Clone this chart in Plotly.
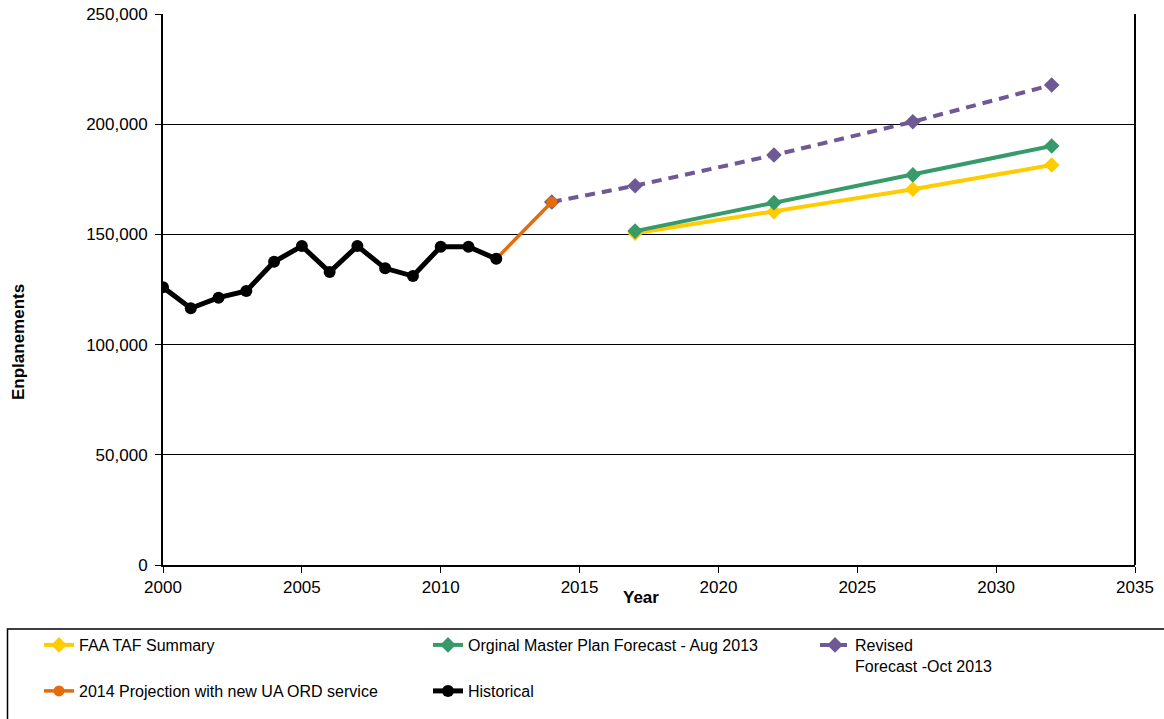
import plotly.graph_objects as go

hist_years = list(range(2000, 2013))
hist_vals = [126000, 116500, 121300, 124300, 137600, 144700, 132900, 144700, 134600, 131100, 144400, 144400, 138900]

proj_years = [2012, 2014]
proj_vals = [138900, 164700]

revised_years = [2014, 2017, 2022, 2027, 2032]
revised_vals = [164700, 172100, 186000, 201100, 217800]

orig_years = [2017, 2022, 2027, 2032]
orig_vals = [151500, 164400, 177000, 190100]

taf_years = [2017, 2022, 2027, 2032]
taf_vals = [150500, 160300, 170500, 181500]

x_ticks = [2000, 2005, 2010, 2015, 2020, 2025, 2030, 2035]
y_ticks = [0, 50000, 100000, 150000, 200000, 250000]

FONT = "Liberation Sans, Arial, sans-serif"
W, H = 1164, 719
ML, MR, MT, MB = 163, 29, 14, 154
PW, PH = W - ML - MR, H - MT - MB


def px_x(px):
    return (px - ML) / PW


def px_y(py):
    return (H - MB - py) / PH


fig = go.Figure()
fig.add_trace(go.Scatter(x=taf_years, y=taf_vals, mode="lines+markers", name="FAA TAF Summary",
                         line=dict(color="#FFCC00", width=4),
                         marker=dict(symbol="diamond", size=12, color="#FFCC00"), legend="legend"))
fig.add_trace(go.Scatter(x=orig_years, y=orig_vals, mode="lines+markers", name="Orginal Master Plan Forecast - Aug 2013",
                         line=dict(color="#379A6B", width=4),
                         marker=dict(symbol="diamond", size=12, color="#379A6B"), legend="legend2"))
fig.add_trace(go.Scatter(x=revised_years, y=revised_vals, mode="lines+markers", name="Revised<br>Forecast -Oct 2013",
                         line=dict(color="#6E5895", width=4, dash="10px,7px"),
                         marker=dict(symbol="diamond", size=12, color="#6E5895"), legend="legend3"))
fig.add_trace(go.Scatter(x=proj_years, y=proj_vals, mode="lines+markers", name="2014 Projection with new UA ORD service",
                         line=dict(color="#E46C0A", width=3.5),
                         marker=dict(symbol="circle", size=11, color="#E46C0A"), legend="legend4"))
fig.add_trace(go.Scatter(x=hist_years, y=hist_vals, mode="lines+markers", name="Historical",
                         line=dict(color="#000000", width=5),
                         marker=dict(symbol="circle", size=12, color="#000000"), legend="legend5"))

legend_font = dict(family=FONT, size=16, color="black")


def leg(xpx, ypx):
    return dict(xref="container", yref="container", x=xpx / W, y=1 - ypx / H,
                xanchor="left", yanchor="top", bgcolor="rgba(0,0,0,0)", borderwidth=0,
                valign="top", font=legend_font, orientation="v")


fig.update_layout(
    width=W, height=H,
    margin=dict(l=ML, r=MR, t=MT, b=MB, autoexpand=False),
    paper_bgcolor="white", plot_bgcolor="white",
    font=dict(family=FONT, size=17, color="black"),
    showlegend=True,
    legend=leg(39, 628),
    legend2=leg(428, 628),
    legend3=leg(815, 628),
    legend4=leg(39, 674),
    legend5=leg(428, 674),
    xaxis=dict(range=[2000, 2035], tickvals=x_ticks, showgrid=False, zeroline=False,
               showline=True, linecolor="black", linewidth=2, automargin=False,
               ticks="outside", ticklen=6, tickcolor="black", tickwidth=1,
               tickfont=dict(family=FONT, size=17)),
    yaxis=dict(range=[0, 250000], tickvals=y_ticks, tickformat=",", showgrid=True,
               gridcolor="black", gridwidth=1, zeroline=False, automargin=False,
               showline=True, linecolor="black", linewidth=2,
               ticks="outside", ticklen=6, tickcolor="black", tickwidth=1,
               ticklabelstandoff=4,
               tickfont=dict(family=FONT, size=17)),
)
# right border of plot area
fig.add_shape(type="line", xref="paper", yref="paper", x0=1, x1=1, y0=0, y1=1,
              line=dict(color="black", width=2))
# legend frame
fig.add_shape(type="rect", xref="paper", yref="paper",
              x0=px_x(7.5), x1=px_x(1180), y0=px_y(629), y1=px_y(740),
              line=dict(color="black", width=1.5), fillcolor="rgba(0,0,0,0)", layer="below")
fig.add_annotation(text="<b>Year</b>", xref="paper", yref="paper", x=px_x(641), y=px_y(597),
                   showarrow=False, font=dict(family=FONT, size=17), yanchor="middle", xanchor="center")
fig.add_annotation(text="<b>Enplanements</b>", xref="paper", yref="paper", x=px_x(18), y=px_y(342),
                   showarrow=False, textangle=-90, font=dict(family=FONT, size=17),
                   yanchor="middle", xanchor="center")

fig.write_html("out.html")
